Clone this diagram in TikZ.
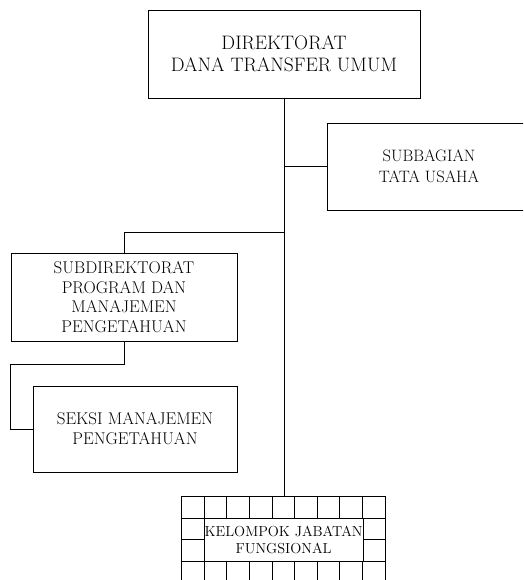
\documentclass[tikz,border=0pt]{standalone}
\usepackage{fontspec}
\begin{document}
\begin{tikzpicture}[x=1pt,y=-1pt,
  box/.style={draw,line width=0.9pt,rectangle,inner sep=0pt,align=center},
  conn/.style={line width=0.9pt},
  gridline/.style={line width=0.9pt}]
\useasboundingbox (0,0) rectangle (523,580);
\clip (0,0) rectangle (523,580);
% boxes
\node[box,minimum width=272pt,minimum height=88pt,font=\fontsize{19.5}{22}\selectfont] (top) at (284,54) {DIREKTORAT\\DANA TRANSFER UMUM};
\node[box,minimum width=208pt,minimum height=87pt,font=\fontsize{16.5}{20.5}\selectfont] (sub) at (431,166.5) {\hspace*{-4pt}SUBBAGIAN\\\hspace*{-4pt}TATA USAHA};
\node[box,minimum width=226pt,minimum height=88pt,font=\fontsize{17}{19.5}\selectfont] (subdir) at (124,297) {SUBDIREKTORAT\\PROGRAM DAN\\MANAJEMEN\\PENGETAHUAN};
\node[box,minimum width=204pt,minimum height=86pt,font=\fontsize{17}{20}\selectfont] (seksi) at (135,429) {SEKSI MANAJEMEN\\PENGETAHUAN};
% grid
\foreach \i in {0,...,9} {
  \draw[gridline] ({181.7+22.59*\i},496) -- ({181.7+22.59*\i},585);
}
\foreach \y in {496,518,539.5,561} {
  \draw[gridline] (181.7,\y) -- (385,\y);
}
\node[box,fill=white,minimum width=158.7pt,minimum height=43pt,font=\fontsize{14.5}{17}\selectfont] (kel) at (283.6,539.5) {KELOMPOK JABATAN\\FUNGSIONAL};
\coordinate (gtop) at (284,496);
% connectors
\draw[conn] (top.south) -- (gtop);
\draw[conn] (top.south |- sub.west) -- (sub.west);
\coordinate (j2) at (284,232);
\draw[conn] (j2) -| (subdir.north);
\coordinate (j3) at (10,429);
\draw[conn] (subdir.south) -- ++(0,23) -| (j3) -- (seksi.west);
\end{tikzpicture}
\end{document}
